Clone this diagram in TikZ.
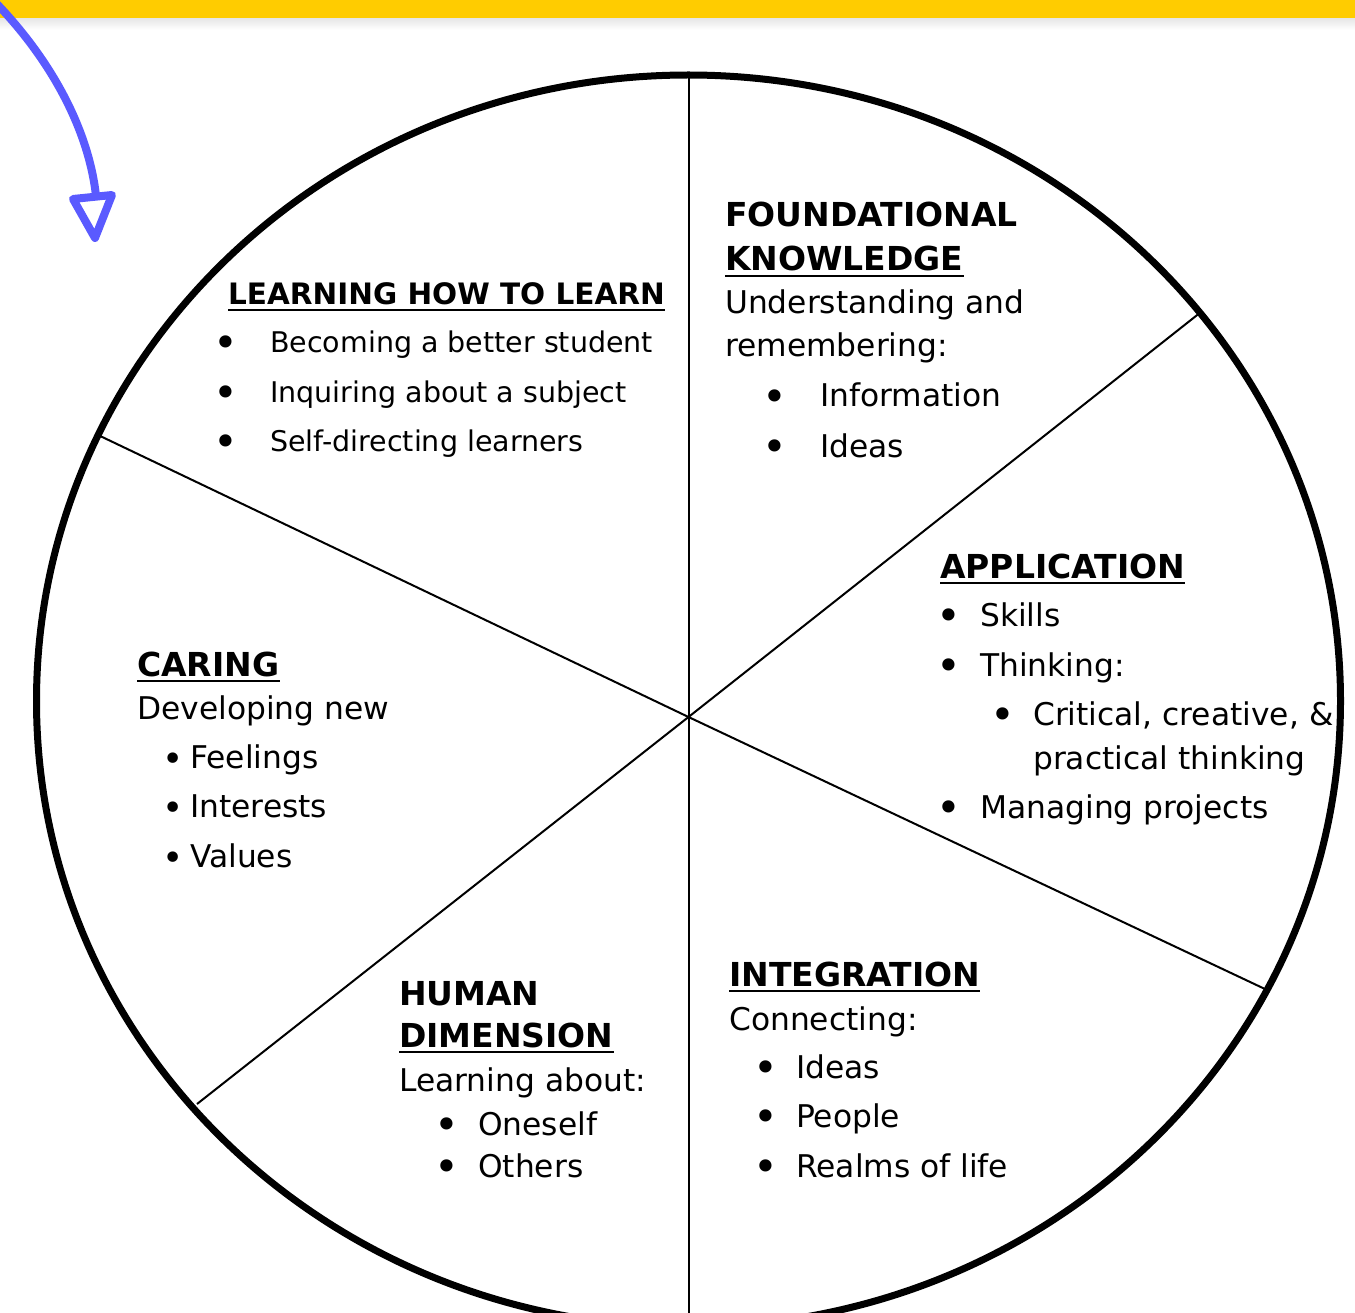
\documentclass[tikz,border=0pt]{standalone}
\usepackage{fontspec}
\setmainfont{DejaVu Sans}
\usetikzlibrary{calc}
\definecolor{barY}{HTML}{FFCC00}
\definecolor{arrB}{HTML}{5A5AFF}
\begin{document}
\begin{tikzpicture}[x=1pt,y=-1pt,
  txt/.style={anchor=base west,inner sep=0pt,font=\fontsize{31.3}{33}\selectfont},
  txts/.style={anchor=base west,inner sep=0pt,font=\fontsize{28.5}{30}\selectfont},
  hdr/.style={anchor=base west,inner sep=0pt,font=\fontsize{33}{34}\selectfont\bfseries},
  hdrs/.style={anchor=base west,inner sep=0pt,font=\fontsize{29.5}{31}\selectfont\bfseries},
  bul/.style={anchor=base,inner sep=0pt,font=\fontsize{42}{42}\selectfont,yshift=-4.5pt},
  buls/.style={anchor=base,inner sep=0pt,font=\fontsize{36}{36}\selectfont,yshift=-3pt},
  ul/.style={line width=2.5pt},
  spoke/.style={line width=2pt},
  rim/.style={line width=7pt},
  arr/.style={arrB,line width=8pt,line cap=round,line join=round}
]
\useasboundingbox (0,0) rectangle (1355,1313);
\clip (0,0) rectangle (1355,1313);
\fill[white] (0,0) rectangle (1355,1313);
\shade[top color=black!10,bottom color=white] (0,18) rectangle (1355,30);
\fill[barY] (0,0) rectangle (1355,18);

% wheel
\coordinate (C) at (688.5,717);
\coordinate (T) at (688.5,72);
\coordinate (B) at (688.5,1330);
\coordinate (UL) at (97,434.5);
\coordinate (LR) at (1266,989.5);
\coordinate (UR) at (1201,312);
\coordinate (LL) at (197,1104);
\draw[spoke] (T) -- (B);
\draw[spoke] (UL) -- (C) -- (LR);
\draw[spoke] (UR) -- (C) -- (LL);
\draw[rim] (688.5,701) ellipse [x radius=652,y radius=626];

% arrow
\coordinate (A0) at (-3,4);
\coordinate (A1) at (96,196);
\draw[arr] (A0) .. controls (60,70) and (90,140) .. (A1);
\draw[arr,fill=white] (73,199) -- (112,195) -- (95,238) -- cycle;

% LEARNING HOW TO LEARN
\node[hdrs] (l0) at (228,305) {LEARNING HOW TO LEARN};
\draw[ul] ($(l0.base west)+(0,5)$) -- ($(l0.base east)+(0,5)$);
\node[bul] (lb1) at (226,353) {•};
\node[txts] (l1) at (270,353) {Becoming a better student};
\node[bul] (lb2) at (226,403) {•};
\node[txts] (l2) at (270,403) {Inquiring about a subject};
\node[bul] (lb3) at (226,452) {•};
\node[txts] (l3) at (270,452) {Self-directing learners};

% FOUNDATIONAL KNOWLEDGE
\node[hdr] (f0) at (725,227) {FOUNDATIONAL};
\node[hdr] (f1) at (725,271) {KNOWLEDGE};
\draw[ul] ($(f1.base west)+(0,5)$) -- ($(f1.base east)+(0,5)$);
\node[txt] (f2) at (725,314) {Understanding and};
\node[txt] (f3) at (725,357) {remembering:};
\node[bul] (fb1) at (775,407) {•};
\node[txt] (f4) at (820,407) {Information};
\node[bul] (fb2) at (775,457) {•};
\node[txt] (f5) at (820,457) {Ideas};

% APPLICATION
\node[hdr] (a0) at (940,578) {APPLICATION};
\draw[ul] ($(a0.base west)+(0,5)$) -- ($(a0.base east)+(0,5)$);
\node[bul] (ab1) at (949,626) {•};
\node[txt] (a1) at (980,626) {Skills};
\node[bul] (ab2) at (949,676) {•};
\node[txt] (a2) at (980,676) {Thinking:};
\node[bul] (ab3) at (1003,725) {•};
\node[txt] (a3) at (1033,725) {Critical, creative, \&};
\node[txt] (a4) at (1033,769) {practical thinking};
\node[bul] (ab4) at (949,818) {•};
\node[txt] (a5) at (980,818) {Managing projects};

% CARING
\node[hdr] (c0) at (137,676) {CARING};
\draw[ul] ($(c0.base west)+(0,5)$) -- ($(c0.base east)+(0,5)$);
\node[txt] (c1) at (137,719) {Developing new};
\node[buls] (cb1) at (173,768) {•};
\node[txt] (c2) at (190,768) {Feelings};
\node[buls] (cb2) at (173,817) {•};
\node[txt] (c3) at (190,817) {Interests};
\node[buls] (cb3) at (173,867) {•};
\node[txt] (c4) at (190,867) {Values};

% HUMAN DIMENSION
\node[hdr] (h0) at (399,1005) {HUMAN};
\node[hdr] (h1) at (399,1047) {DIMENSION};
\draw[ul] ($(h1.base west)+(0,5)$) -- ($(h1.base east)+(0,5)$);
\node[txt] (h2) at (399,1091) {Learning about:};
\node[bul] (hb1) at (447,1135) {•};
\node[txt] (h3) at (478,1135) {Oneself};
\node[bul] (hb2) at (447,1177) {•};
\node[txt] (h4) at (478,1177) {Others};

% INTEGRATION
\node[hdr] (i0) at (729,986) {INTEGRATION};
\draw[ul] ($(i0.base west)+(0,5)$) -- ($(i0.base east)+(0,5)$);
\node[txt] (i1) at (729,1030) {Connecting:};
\node[bul] (ib1) at (766,1078) {•};
\node[txt] (i2) at (796,1078) {Ideas};
\node[bul] (ib2) at (766,1127) {•};
\node[txt] (i3) at (796,1127) {People};
\node[bul] (ib3) at (766,1177) {•};
\node[txt] (i4) at (796,1177) {Realms of life};
\end{tikzpicture}
\end{document}
